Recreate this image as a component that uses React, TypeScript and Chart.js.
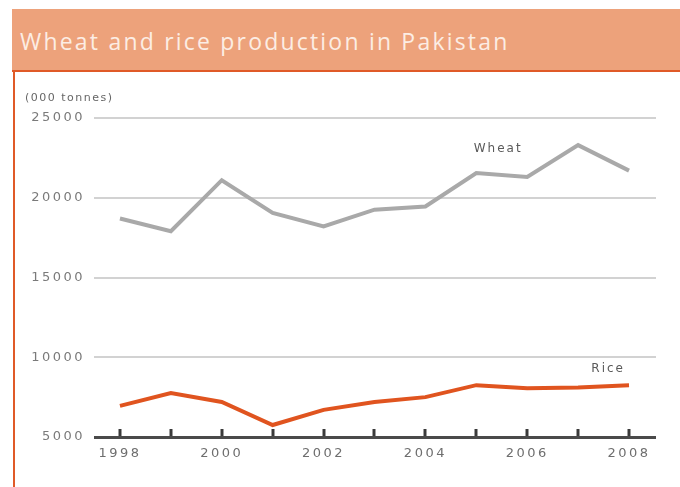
import React, { useEffect, useRef } from "react";
import { Chart, registerables } from "chart.js";

Chart.register(...registerables);

const titleText = "Wheat and rice production in Pakistan";
const unitLabel = "(000 tonnes)";
const years = [1998, 1999, 2000, 2001, 2002, 2003, 2004, 2005, 2006, 2007, 2008];
const wheat = [18700, 17900, 21100, 19050, 18200, 19250, 19450, 21550, 21300, 23300, 21700];
const rice = [6950, 7750, 7200, 5750, 6700, 7200, 7500, 8250, 8050, 8100, 8250];
const yTicks = [5000, 10000, 15000, 20000, 25000];
const seriesNames = ["Wheat", "Rice"];
// where the series names sit, in data units
const labelAnchorX = [2005.43, 2007.59];
const labelAnchorY = [23050, 9250];

const WHEAT_COLOR = "#a9a9a9";
const RICE_COLOR = "#e0541f";
const ORANGE = "#e05a28";
const FONT = "'DejaVu Sans', Verdana, sans-serif";

export default function App() {
  const ref = useRef<HTMLCanvasElement | null>(null);

  useEffect(() => {
    document.body.style.margin = "0";
    const canvas = ref.current;
    if (!canvas) return;

    const spacingPlugin = {
      id: "spacing",
      beforeDraw(chart: any) {
        chart.ctx.letterSpacing = "2.5px";
      },
    };

    const yearTicksPlugin = {
      id: "yearTicks",
      beforeDatasetsDraw(chart: any) {
        const { ctx, scales } = chart;
        const xs = scales.x;
        const ys = scales.y;
        const base = ys.getPixelForValue(yTicks[0]);
        ctx.save();
        ctx.strokeStyle = "#3a3a3a";
        ctx.lineWidth = 3;
        years.forEach((yr) => {
          const px = Math.round(xs.getPixelForValue(yr));
          ctx.beginPath();
          ctx.moveTo(px, base - 1);
          ctx.lineTo(px, base - 8);
          ctx.stroke();
        });
        ctx.restore();
      },
    };

    const textPlugin = {
      id: "texts",
      afterDraw(chart: any) {
        const { ctx, scales } = chart;
        ctx.save();
        ctx.letterSpacing = "1.5px";
        ctx.font = `11px ${FONT}`;
        ctx.fillStyle = "#666666";
        ctx.textAlign = "left";
        ctx.textBaseline = "middle";
        ctx.fillText(unitLabel, 25, 98);

        ctx.letterSpacing = "2px";
        ctx.font = `12px ${FONT}`;
        ctx.fillStyle = "#5a5a5a";
        ctx.textAlign = "center";
        seriesNames.forEach((name, i) => {
          const px = scales.x.getPixelForValue(labelAnchorX[i]);
          const py = scales.y.getPixelForValue(labelAnchorY[i]);
          ctx.fillText(name, px, py);
        });
        ctx.restore();
      },
    };

    const chart = new Chart(canvas, {
      type: "line",
      data: {
        datasets: [
          {
            label: seriesNames[0],
            data: years.map((yr, i) => ({ x: yr, y: wheat[i] })),
            borderColor: WHEAT_COLOR,
            borderWidth: 4,
            pointRadius: 0,
            tension: 0,
            fill: false,
          },
          {
            label: seriesNames[1],
            data: years.map((yr, i) => ({ x: yr, y: rice[i] })),
            borderColor: RICE_COLOR,
            borderWidth: 4,
            pointRadius: 0,
            tension: 0,
            fill: false,
          },
        ],
      },
      options: {
        responsive: false,
        animation: false,
        devicePixelRatio: 1,
        layout: { padding: { left: 0, right: 24, top: 118, bottom: 0 } },
        plugins: {
          legend: { display: false },
          tooltip: { enabled: false },
          title: { display: false },
        },
        scales: {
          x: {
            type: "linear",
            min: 1997.49,
            max: 2008.53,
            afterBuildTicks: (scale: any) => {
              scale.ticks = years.map((v) => ({ value: v }));
            },
            afterFit: (scale: any) => {
              scale.height = 50;
            },
            grid: { display: false, drawTicks: false },
            border: { display: false },
            ticks: {
              autoSkip: false,
              maxRotation: 0,
              padding: 9,
              color: "#6e6e6e",
              font: { family: FONT, size: 13 },
              callback: (v: any) => (Number(v) % 2 === 0 ? String(v) : ""),
            },
          },
          y: {
            min: 5000,
            max: 25000,
            afterBuildTicks: (scale: any) => {
              scale.ticks = yTicks.map((v) => ({ value: v }));
            },
            afterFit: (scale: any) => {
              scale.width = 94;
            },
            grid: {
              drawTicks: false,
              color: (c: any) => (c.tick && c.tick.value === yTicks[0] ? "#4a4a4a" : "#d2d2d2"),
              lineWidth: (c: any) => (c.tick && c.tick.value === yTicks[0] ? 3 : 2),
            },
            border: { display: false },
            ticks: {
              padding: 9,
              color: "#7a7a7a",
              font: { family: FONT, size: 13 },
              callback: (v: any) => String(v),
            },
          },
        },
      },
      plugins: [spacingPlugin, yearTicksPlugin, textPlugin],
    } as any);

    return () => chart.destroy();
  }, []);

  return (
    <div
      style={{
        position: "fixed",
        left: 0,
        top: 0,
        width: 680,
        height: 487,
        background: "#ffffff",
        overflow: "hidden",
      }}
    >
      <div style={{ position: "absolute", left: 12, top: 9, width: 668, height: 61, background: "#eda27b" }} />
      <div style={{ position: "absolute", left: 12, top: 70, width: 668, height: 2, background: ORANGE }} />
      <div style={{ position: "absolute", left: 13, top: 70, width: 2, height: 417, background: ORANGE }} />
      <div
        style={{
          position: "absolute",
          left: 20,
          top: 26,
          lineHeight: "30px",
          fontFamily: "'Open Sans', sans-serif",
          fontSize: 23,
          letterSpacing: "2.2px",
          color: "#fcede4",
          whiteSpace: "nowrap",
        }}
      >
        {titleText}
      </div>
      <canvas
        ref={ref}
        width={680}
        height={487}
        style={{ position: "absolute", left: 0, top: 0, width: 680, height: 487 }}
      />
    </div>
  );
}
